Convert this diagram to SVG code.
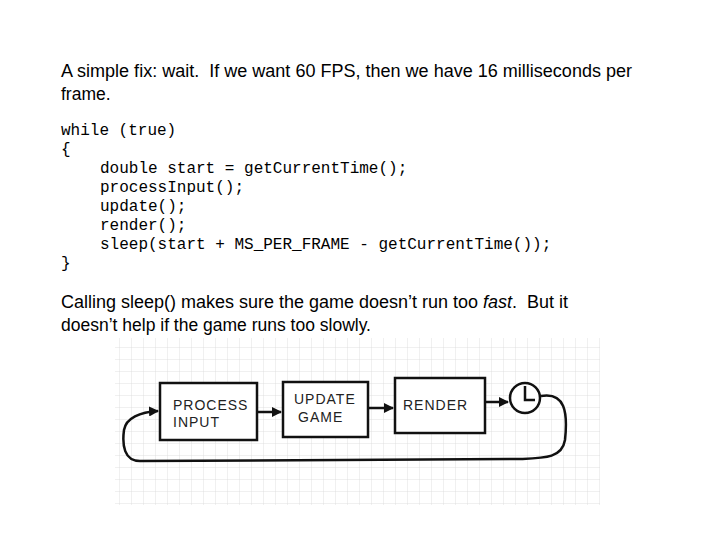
<svg xmlns="http://www.w3.org/2000/svg" width="720" height="540" viewBox="0 0 720 540">
<defs>
<style>
.t{font-family:"Liberation Sans",Arial,sans-serif;font-size:17.5px;fill:#000}
.c{font-family:"Liberation Mono","Courier New",monospace;font-size:16px;fill:#000}
.box{fill:#fff;stroke:#111;stroke-width:2.5}
.lbl{font-family:"Liberation Sans",sans-serif;font-size:14px;fill:#222;letter-spacing:1px}
.ln{fill:none;stroke:#111;stroke-width:2.5}
</style>
<pattern id="grid" width="12" height="12" patternUnits="userSpaceOnUse">
<path d="M12 0V12H0" fill="none" stroke="#d8d8d8" stroke-width="0.8"/>
</pattern>
<marker id="ah" viewBox="0 0 10 10" refX="9" refY="5" markerWidth="4" markerHeight="4" orient="auto"><path d="M0 0L10 5L0 10z" fill="#111"/></marker>
</defs>
<rect width="720" height="540" fill="#fff"/>
<text class="t" x="61" y="77" xml:space="preserve" textLength="571" lengthAdjust="spacingAndGlyphs">A simple fix: wait.  If we want 60 FPS, then we have 16 milliseconds per</text>
<text class="t" x="61" y="100">frame.</text>
<text class="c" x="61" y="135" xml:space="preserve">while (true)</text>
<text class="c" x="61" y="154">{</text>
<text class="c" x="100" y="173">double start = getCurrentTime();</text>
<text class="c" x="100" y="192">processInput();</text>
<text class="c" x="100" y="211">update();</text>
<text class="c" x="100" y="230">render();</text>
<text class="c" x="100" y="249">sleep(start + MS_PER_FRAME - getCurrentTime());</text>
<text class="c" x="61" y="268">}</text>
<text class="t" x="61" y="308" xml:space="preserve" textLength="507" lengthAdjust="spacingAndGlyphs">Calling sleep() makes sure the game doesn’t run too <tspan font-style="italic">fast</tspan>.  But it</text>
<text class="t" x="61" y="331">doesn’t help if the game runs too slowly.</text>
<rect x="115" y="338" width="485" height="167" fill="url(#grid)"/>
<g id="connectors">
<path class="ln" d="M257 412H281" marker-end="url(#ah)"/>
<path class="ln" d="M368 408H393" marker-end="url(#ah)"/>
<path class="ln" d="M485 402H508" marker-end="url(#ah)"/>
<path class="ln" d="M541 396C565 392 568 412 565 440C562 458 545 458 520 459L140 461C124 461 122 445 124 430C126 418 140 412 158 411" marker-end="url(#ah)"/>
</g>
<g id="process-input"><rect class="box" x="160" y="383" width="97" height="57"/><text class="lbl" x="173" y="410">PROCESS</text><text class="lbl" x="173" y="427">INPUT</text></g>
<g id="update-game"><rect class="box" x="283" y="382" width="85" height="55"/><text class="lbl" x="294" y="404">UPDATE</text><text class="lbl" x="298" y="422">GAME</text></g>
<g id="render"><rect class="box" x="395" y="378" width="90" height="55"/><text class="lbl" x="403" y="410">RENDER</text></g>
<g id="clock"><circle cx="525" cy="398" r="15" fill="#fff" stroke="#111" stroke-width="2.5"/><path d="M525 386V400H535" fill="none" stroke="#111" stroke-width="2.5"/></g>
</svg>
